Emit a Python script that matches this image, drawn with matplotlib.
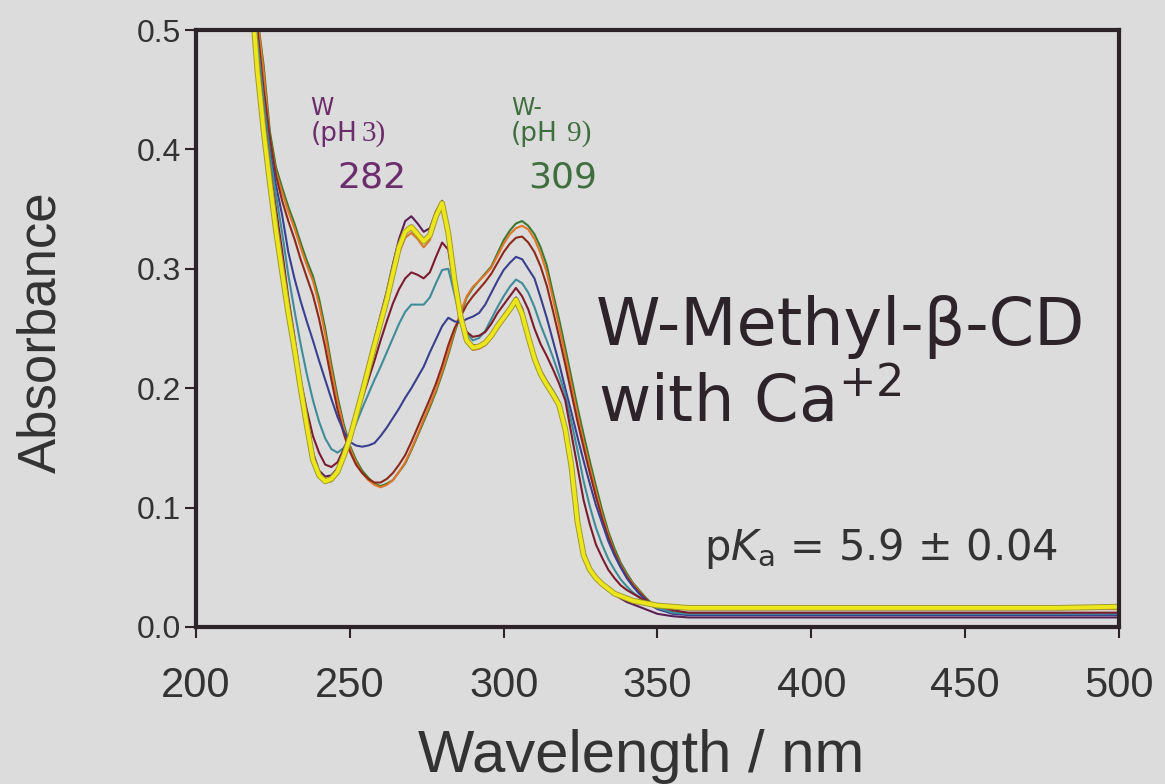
import matplotlib.pyplot as plt
from matplotlib import patheffects

# wavelength grid (nm) shared by every spectrum
wavelength = [218, 220, 222, 224, 226, 228, 230, 232, 234, 236,
              238, 240, 242, 244, 246, 248, 250, 252, 254, 256,
              258, 260, 262, 264, 266, 268, 270, 272, 274, 276,
              278, 280, 282, 284, 286, 288, 290, 292, 294, 296,
              298, 300, 302, 304, 306, 308, 310, 312, 314, 316,
              318, 320, 322, 324, 326, 328, 330, 332, 334, 336,
              338, 340, 342, 344, 346, 348, 350, 355, 360, 380,
              400, 420, 450, 480, 500]

# absorbance, one list per spectrum
abs_green = [.56, .51, .47, .415, .385, .368, .352, .338, .322, .307,
             .294, .275, .250, .220, .193, .170, .152, .140, .131, .125,
             .120, .118, .120, .123, .130, .137, .148, .160, .172, .184,
             .197, .212, .228, .246, .262, .276, .284, .290, .296, .302,
             .313, .324, .332, .338, .340, .336, .329, .318, .303, .280,
             .258, .234, .209, .184, .161, .139, .118, .098, .080, .066,
             .054, .045, .037, .031, .025, .020, .016, .012, .011, .011,
             .011, .011, .011, .011, .011]
abs_orange_b = [.56, .51, .465, .41, .381, .364, .348, .334, .318, .303,
                .290, .270, .245, .215, .189, .167, .150, .138, .129, .123,
                .119, .117, .119, .123, .130, .138, .149, .161, .174, .186,
                .199, .214, .230, .248, .264, .277, .285, .290, .295, .301,
                .311, .321, .329, .334, .336, .333, .325, .313, .297, .275,
                .252, .228, .203, .178, .155, .134, .113, .094, .077, .063,
                .052, .043, .036, .030, .024, .019, .016, .012, .011, .011,
                .011, .011, .011, .011, .011]
abs_brown = [.55, .50, .45, .41, .378, .357, .340, .325, .308, .293,
             .278, .258, .234, .207, .182, .162, .147, .136, .129, .124,
             .121, .121, .124, .129, .136, .144, .155, .167, .179, .191,
             .204, .219, .236, .250, .260, .270, .277, .283, .289, .296,
             .305, .314, .321, .326, .327, .322, .314, .302, .286, .265,
             .243, .220, .196, .172, .150, .129, .109, .091, .075, .062,
             .051, .042, .035, .029, .024, .019, .016, .012, .011, .011,
             .011, .011, .011, .011, .011]
abs_navy = [.54, .49, .44, .40, .370, .345, .314, .292, .273, .256,
            .240, .223, .207, .191, .176, .164, .155, .152, .151, .152,
            .154, .160, .167, .175, .183, .192, .200, .209, .218, .230,
            .241, .252, .259, .256, .255, .258, .260, .263, .270, .280,
            .290, .299, .305, .310, .308, .300, .292, .276, .259, .240,
            .221, .200, .180, .159, .139, .120, .102, .087, .072, .060,
            .050, .041, .034, .028, .023, .018, .015, .011, .010, .010,
            .010, .010, .010, .010, .010]
abs_teal = [.54, .49, .44, .395, .362, .330, .295, .265, .237, .212,
            .190, .172, .158, .149, .146, .150, .158, .170, .183, .195,
            .207, .218, .230, .242, .254, .264, .270, .270, .270, .276,
            .288, .299, .300, .279, .257, .246, .240, .242, .248, .258,
            .268, .277, .285, .291, .288, .280, .268, .253, .240, .226,
            .211, .195, .172, .148, .122, .101, .083, .069, .057, .048,
            .040, .034, .029, .025, .021, .018, .016, .012, .011, .011,
            .011, .011, .011, .011, .011]
abs_maroon = [.54, .48, .43, .385, .350, .315, .276, .243, .207, .182,
              .160, .146, .136, .134, .138, .149, .161, .176, .191, .207,
              .223, .240, .256, .271, .283, .292, .297, .295, .292, .297,
              .310, .322, .316, .283, .260, .247, .243, .244, .247, .254,
              .263, .270, .277, .284, .277, .266, .250, .237, .227, .216,
              .204, .190, .162, .134, .106, .086, .069, .058, .048, .041,
              .035, .031, .028, .025, .022, .020, .018, .014, .012, .012,
              .012, .012, .012, .012, .012]
abs_orange_a = [.525, .462, .412, .372, .332, .298, .264, .234, .200, .169,
                .141, .127, .121, .122, .128, .141, .156, .175, .194, .214,
                .234, .253, .272, .294, .313, .326, .330, .325, .318, .324,
                .342, .352, .328, .289, .258, .238, .232, .233, .236, .242,
                .250, .257, .264, .271, .260, .241, .223, .210, .201, .193,
                .184, .164, .133, .087, .059, .047, .040, .035, .031, .027,
                .025, .023, .021, .020, .019, .018, .017, .016, .015, .015,
                .015, .015, .015, .015, .015]
abs_purple = [.53, .47, .415, .375, .337, .302, .268, .238, .205, .174,
              .146, .131, .126, .127, .133, .146, .162, .181, .200, .220,
              .241, .261, .281, .304, .325, .340, .344, .338, .331, .334,
              .348, .357, .335, .294, .262, .242, .236, .236, .239, .245,
              .253, .261, .268, .276, .267, .246, .228, .215, .206, .198,
              .189, .170, .140, .093, .064, .050, .042, .036, .031, .027,
              .024, .021, .019, .017, .015, .013, .011, .009, .008, .008,
              .008, .008, .008, .008, .008]
abs_yellow = [.53, .465, .415, .372, .332, .297, .263, .233, .200, .169,
              .140, .127, .122, .124, .130, .143, .158, .177, .196, .216,
              .236, .255, .274, .296, .318, .331, .335, .329, .323, .328,
              .344, .355, .330, .291, .260, .240, .234, .235, .238, .244,
              .252, .259, .266, .274, .262, .243, .225, .212, .203, .195,
              .186, .166, .135, .088, .060, .048, .041, .036, .032, .028,
              .026, .024, .022, .021, .020, .019, .018, .017, .016, .016,
              .016, .016, .016, .016, .017]

x_ticks = [200, 250, 300, 350, 400, 450, 500]
y_ticks = [0.0, 0.1, 0.2, 0.3, 0.4, 0.5]

plt.rcParams['font.family'] = ['Liberation Sans', 'DejaVu Sans']
plt.rcParams['mathtext.fontset'] = 'custom'
plt.rcParams['mathtext.rm'] = 'DejaVu Sans'
plt.rcParams['mathtext.it'] = 'DejaVu Sans:italic'

bg = '#dcdcdc'
ink = '#2c2428'
txt = '#333333'
purple_txt = '#6b2d6c'
green_txt = '#3f6e3f'
wide = 'DejaVu Sans'  # the slide text is set wider than the axis text

fig = plt.figure(figsize=(11.65, 7.84), dpi=100, facecolor=bg)
ax = fig.add_axes([196 / 1165, 1 - 627 / 784, 923 / 1165, 597 / 784])
ax.set_facecolor(bg)

# thin spectra, base form first, acid form last
thin = [(abs_green, '#3c7a2e'), (abs_orange_b, '#e0762a'), (abs_brown, '#8c2a1c'),
        (abs_navy, '#3b3f8f'), (abs_teal, '#3f8c99'), (abs_maroon, '#7b1d2e'),
        (abs_orange_a, '#d9782a'), (abs_purple, '#5a1f55')]
for vals, col in thin:
    ax.plot(wavelength, vals, color=col, lw=1.5, solid_joinstyle='round')

ax.plot(wavelength, abs_yellow, color='#ece61c', lw=2.8, solid_joinstyle='round',
        path_effects=[patheffects.withStroke(linewidth=4.2, foreground='#a29a2e')])

ax.set_xlim(200, 500)
ax.set_ylim(0, 0.5)
ax.set_xticks(x_ticks)
ax.set_yticks(y_ticks)
ax.set_yticklabels(['%.1f' % v for v in y_ticks])
ax.tick_params(axis='both', direction='out', length=8, width=1.5, color=ink, labelcolor=txt)
ax.tick_params(axis='y', labelsize=23, pad=3)
ax.tick_params(axis='x', labelsize=30, pad=20)
for side in ['left', 'right', 'top', 'bottom']:
    ax.spines[side].set_color(ink)
    ax.spines[side].set_linewidth(3)

fig.text(41 / 1165, 1 - 332 / 784, 'Absorbance', rotation=90, fontsize=38,
         color=txt, ha='center', va='center')
fig.text(641 / 1165, 1 - 757 / 784, 'Wavelength / nm', fontsize=43,
         color=txt, ha='center', va='center')

# band labels
ax.text(237.2, 0.429, 'W', color=purple_txt, fontsize=17, family=wide)
ax.text(237.2, 0.407, '(pH', color=purple_txt, fontsize=19, family=wide)
ax.text(253.8, 0.407, '3)', color=purple_txt, fontsize=21, family='Liberation Serif')
ax.text(246.0, 0.368, '282', color=purple_txt, fontsize=26, family=wide)
ax.text(302.4, 0.429, 'W-', color=green_txt, fontsize=17, family=wide)
ax.text(302.4, 0.407, '(pH', color=green_txt, fontsize=19, family=wide)
ax.text(320.5, 0.407, '9)', color=green_txt, fontsize=21, family='Liberation Serif')
ax.text(307.9, 0.368, '309', color=green_txt, fontsize=26, family=wide)

ax.text(330.1, 0.236, 'W-Methyl-\u03b2-CD', color=ink, fontsize=47, family=wide)
ax.text(330.7, 0.172, 'with Ca$^{+2}$', color=ink, fontsize=46, family=wide)
ax.text(365.0, 0.056, 'p$K_\\mathrm{a}$ = 5.9 \u00b1 0.04', color=txt, fontsize=30, family=wide)

plt.savefig('out.png', dpi=100, facecolor=bg)
